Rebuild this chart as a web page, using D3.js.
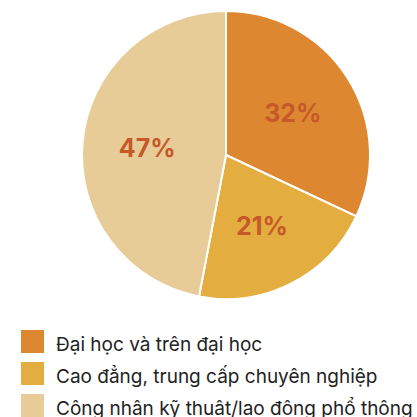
<!DOCTYPE html>
<html>
<head>
<meta charset="utf-8">
<script src="https://cdn.jsdelivr.net/npm/d3@7"></script>
<style>
  body { margin: 0; background: #fff; }
  svg { display: block; font-family: Inter, "Noto Sans", sans-serif; }
</style>
</head>
<body>
<div id="chart"></div>
<script>
const categories = ["Đại học và trên đại học", "Cao đẳng, trung cấp chuyên nghiệp", "Công nhân kỹ thuât/lao đông phổ thông"]
const values = [32, 21, 47]
const colors = ["#de8731", "#e3ad3f", "#e8cc97"]

const width = 417, height = 417
const cx = 226, cy = 155, radius = 144

const svg = d3.select("#chart")
  .append("svg")
    .attr("width", width)
    .attr("height", height)

const data = categories.map((c, i) => ({name: c, value: values[i], color: colors[i]}))

const pie = d3.pie().sort(null).value(d => d.value)
const arc = d3.arc().innerRadius(0).outerRadius(radius)
const labelArc = d3.arc().innerRadius(0).outerRadius(radius * 1.1)

const g = svg.append("g").attr("transform", "translate(" + cx + "," + cy + ")")

g.selectAll("path")
  .data(pie(data))
  .join("path")
    .attr("d", arc)
    .attr("fill", d => d.data.color)
    .attr("stroke", "#fff")
    .attr("stroke-width", 2)

g.selectAll("text")
  .data(pie(data))
  .join("text")
    .attr("transform", d => "translate(" + labelArc.centroid(d) + ")")
    .attr("text-anchor", "middle")
    .attr("dy", "0.36em")
    .attr("font-size", 25)
    .attr("font-weight", 700)
    .attr("fill", "#c5592a")
    .text(d => d.data.value + "%")

// legend
const legend = svg.append("g").attr("transform", "translate(21,330)")
const rows = legend.selectAll("g")
  .data(data)
  .join("g")
    .attr("transform", (d, i) => "translate(0," + i * 32 + ")")

rows.append("rect")
  .attr("width", 23)
  .attr("height", 23)
  .attr("fill", d => d.color)

rows.append("text")
  .attr("x", 35)
  .attr("y", 20.5)
  .attr("font-size", 19)
  .attr("fill", "#222")
  .text(d => d.name)
</script>
</body>
</html>
